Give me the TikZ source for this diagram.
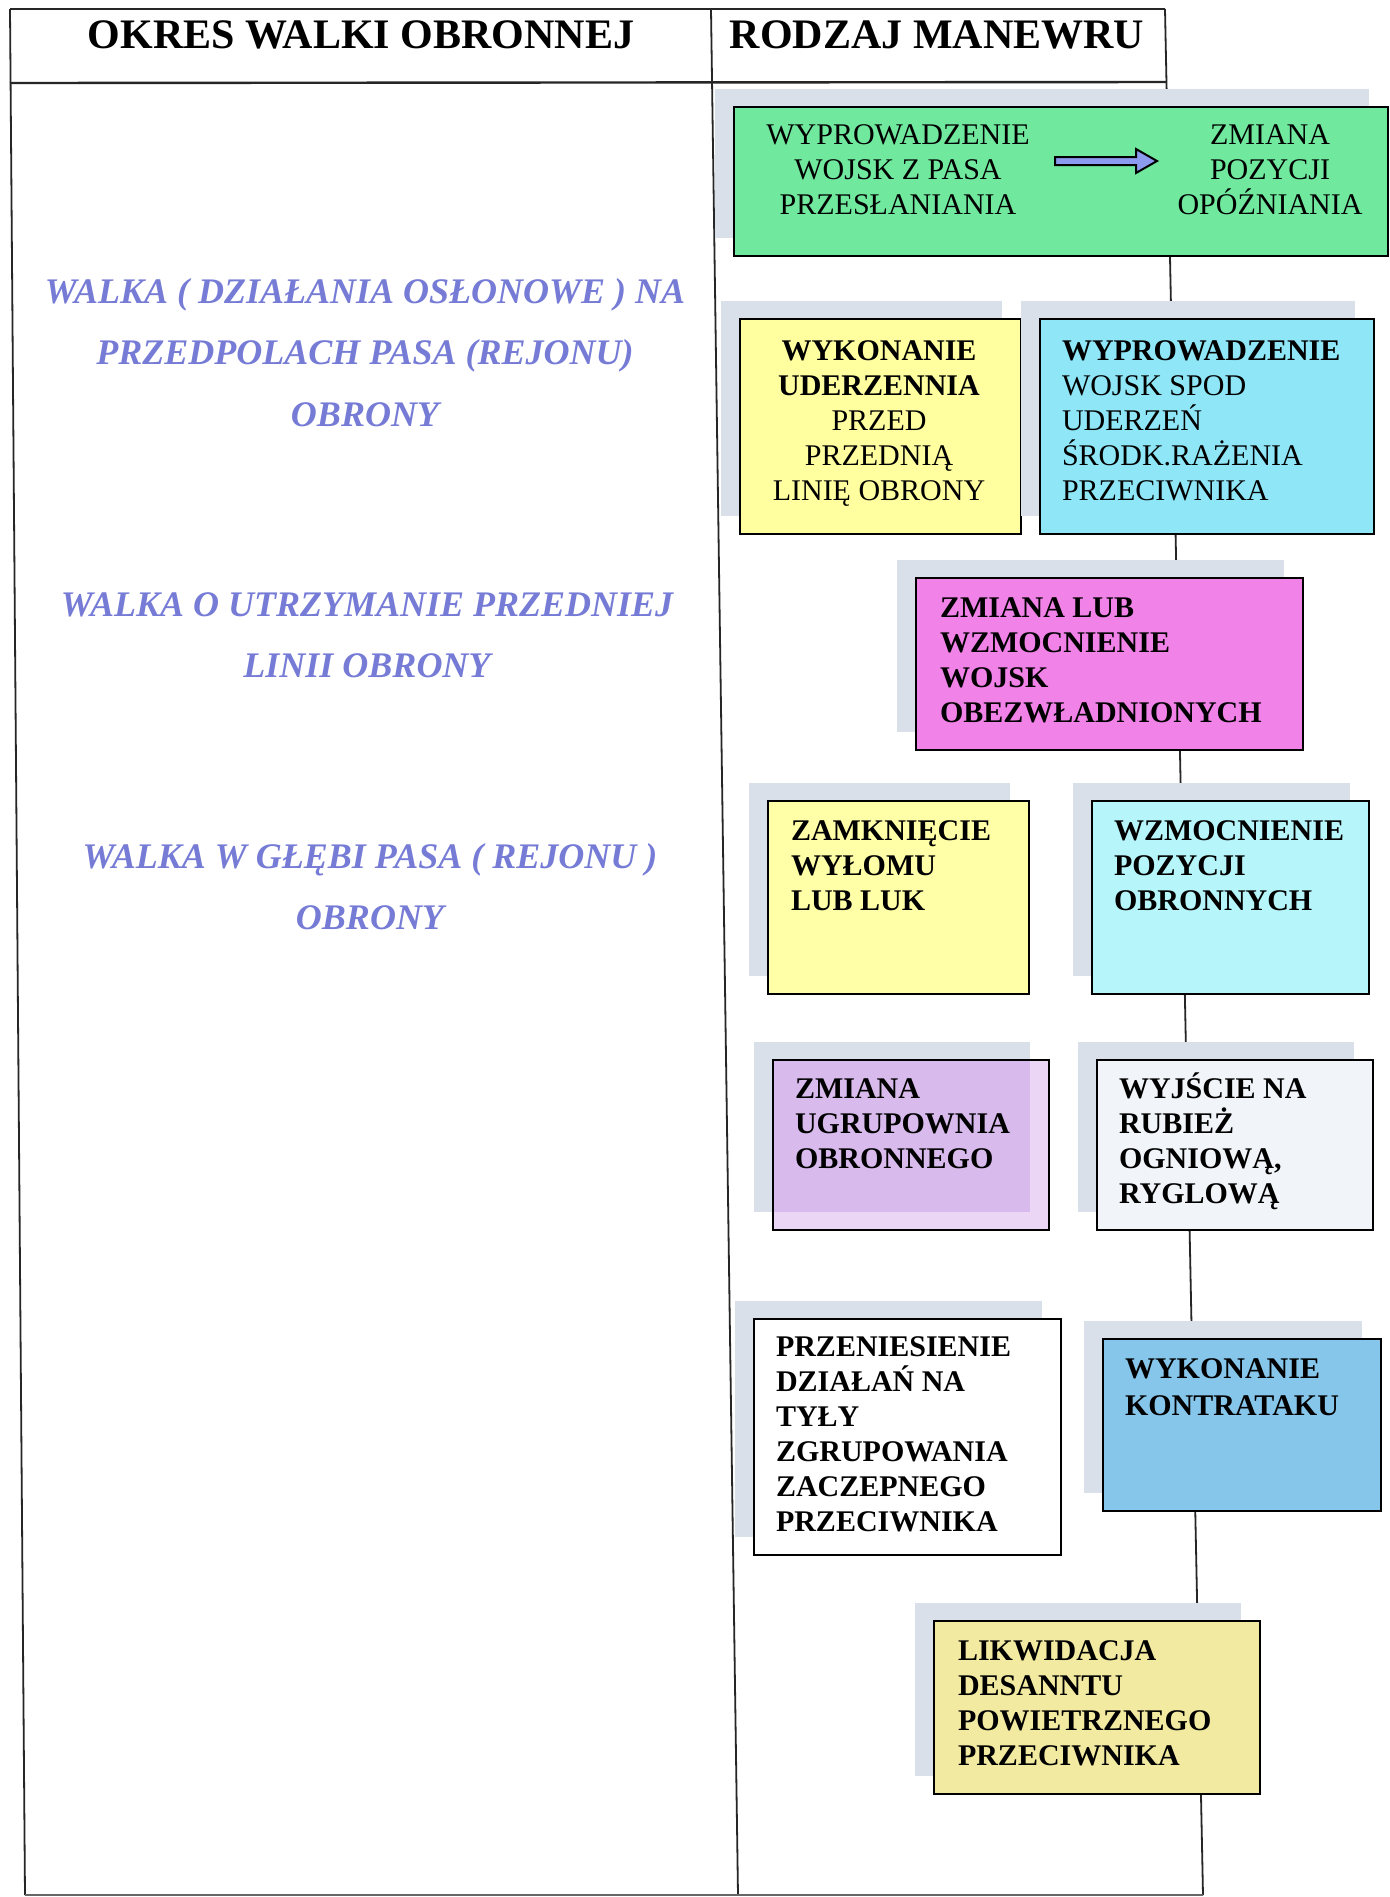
\documentclass[tikz,border=0pt]{standalone}
\usepackage{fontspec}
\setmainfont{Liberation Serif}
\definecolor{shadowc}{RGB}{217,224,233}
\definecolor{greenc}{RGB}{112,232,158}
\definecolor{yellowa}{RGB}{255,255,160}
\definecolor{cyana}{RGB}{142,230,247}
\definecolor{magentac}{RGB}{240,130,232}
\definecolor{yellowb}{RGB}{255,255,168}
\definecolor{cyanb}{RGB}{182,245,250}
\definecolor{purplelo}{RGB}{236,214,246}
\definecolor{purplehi}{RGB}{216,186,237}
\definecolor{whitegray}{RGB}{241,244,248}
\definecolor{bluec}{RGB}{135,198,235}
\definecolor{yellowc}{RGB}{242,234,160}
\definecolor{lefttxt}{RGB}{118,124,214}
\definecolor{arrowc}{RGB}{140,155,240}
\tikzset{
  tline/.style={line width=0.9pt, draw=black!85},
  hline/.style={line width=1.2pt, draw=black!85},
  boxst/.style={draw=black, line width=1.3pt, inner sep=0pt, outer sep=0pt},
  btxt/.style={inner sep=0pt, outer sep=0pt, align=left, anchor=north west,
    font=\fontsize{15pt}{17.5pt}\selectfont\bfseries},
  rtxt/.style={inner sep=0pt, outer sep=0pt, align=center, anchor=north,
    font=\fontsize{15pt}{17.5pt}\selectfont},
  ltxt/.style={inner sep=0pt, outer sep=0pt, align=center, anchor=north, text=lefttxt,
    font=\fontsize{18pt}{30.75pt}\selectfont\bfseries\itshape},
  htxt/.style={inner sep=0pt, anchor=base, font=\fontsize{21pt}{24pt}\selectfont\bfseries}
}
\newcommand\manbox[6]{%
  \fill[shadowc] ({#2-19},{#3-18}) rectangle ({#4-19},{#5-18});
  \node[boxst, fill=#6, anchor=north west,
        minimum width={(#4-#2)*0.5pt}, minimum height={(#5-#3)*0.5pt}] (#1) at (#2,#3) {};
}
\newcommand\fr{\rule{0pt}{15pt}}
\newcommand\lr{\rule{0pt}{16pt}}
\begin{document}
\begin{tikzpicture}[x=0.5pt,y=-0.5pt]
\useasboundingbox[fill=white] (0,0) rectangle (1390,1897);
% table frame
\coordinate (tl) at (10,9);
\coordinate (tm) at (711,9);
\coordinate (tr) at (1165,9);
\coordinate (hl) at (10,83);
\coordinate (hr) at (1166,82);
\coordinate (bl) at (25,1895);
\coordinate (bm) at (738,1895);
\coordinate (br) at (1203,1895);
\draw[hline] (tl) -- (tr);
\draw[hline] (hl) -- (hr);
\draw[tline] (tl) -- (bl);
\draw[tline] (tm) -- (bm);
\draw[tline] (tr) -- (br);
\draw[line width=1.2pt, draw=black!60] (bl) -- (br);
% headers
\node[htxt] (h1) at (361,48) {OKRES WALKI OBRONNEJ};
\node[htxt] (h2) at (937,48) {RODZAJ MANEWRU};
% left column texts
\node[ltxt] (l1) at (365,271) {\lr WALKA ( DZIAŁANIA OSŁONOWE ) NA\\PRZEDPOLACH PASA (REJONU)\\OBRONY};
\node[ltxt] (l2) at (367,584) {\lr WALKA O UTRZYMANIE PRZEDNIEJ\\LINII OBRONY};
\node[ltxt] (l3) at (370,836) {\lr WALKA W GŁĘBI PASA ( REJONU )\\OBRONY};
% boxes
\manbox{g}{734}{107}{1388}{256}{greenc}
\manbox{ya}{740}{319}{1021}{534}{yellowa}
\manbox{ca}{1040}{319}{1374}{534}{cyana}
\manbox{m}{916}{578}{1303}{750}{magentac}
\manbox{yb}{768}{801}{1029}{994}{yellowb}
\manbox{cb}{1092}{801}{1369}{994}{cyanb}
\manbox{p}{773}{1060}{1049}{1230}{purplelo}
\fill[purplehi] (774,1061) rectangle (1030,1212);
\draw[line width=1.3pt] (p.north west) rectangle (p.south east);
\manbox{wg}{1097}{1060}{1373}{1230}{whitegray}
\manbox{w}{754}{1319}{1061}{1555}{white}
\manbox{b}{1103}{1339}{1381}{1511}{bluec}
\manbox{yc}{934}{1621}{1260}{1794}{yellowc}
% green box content
\node[rtxt] (g1) at (898,114) {\fr WYPROWADZENIE\\WOJSK Z PASA\\PRZESŁANIANIA};
\node[rtxt] (g2) at (1270,114) {\fr ZMIANA\\POZYCJI\\OPÓŹNIANIA};
\draw[fill=arrowc, line width=1pt, line join=miter]
  (1055,157) -- (1136,157) -- (1136,149) -- (1157,161) -- (1136,173) -- (1136,165) -- (1055,165) -- cycle;
% box texts
\node[rtxt] (yat) at (879,330) {\fr\textbf{WYKONANIE}\\\textbf{UDERZENNIA}\\PRZED\\PRZEDNIĄ\\LINIĘ OBRONY};
\node[btxt] (cat) at (1062,330) {\fr WYPROWADZENIE\\\mdseries WOJSK SPOD\\\mdseries UDERZEŃ\\\mdseries ŚRODK.RAŻENIA\\\mdseries PRZECIWNIKA};
\node[btxt] (mt) at (940,587) {\fr ZMIANA LUB\\WZMOCNIENIE\\WOJSK\\OBEZWŁADNIONYCH};
\node[btxt] (ybt) at (791,810) {\fr ZAMKNIĘCIE\\WYŁOMU\\LUB LUK};
\node[btxt] (cbt) at (1114,810) {\fr WZMOCNIENIE\\POZYCJI\\OBRONNYCH};
\node[btxt] (pt) at (795,1068) {\fr ZMIANA\\UGRUPOWNIA\\OBRONNEGO};
\node[btxt] (wgt) at (1119,1068) {\fr WYJŚCIE NA\\RUBIEŻ\\OGNIOWĄ,\\RYGLOWĄ};
\node[btxt] (wt) at (776,1326) {\fr PRZENIESIENIE\\DZIAŁAŃ NA\\TYŁY\\ZGRUPOWANIA\\ZACZEPNEGO\\PRZECIWNIKA};
\node[btxt, font=\fontsize{15pt}{18.5pt}\selectfont\bfseries] (bt) at (1125,1348) {\fr WYKONANIE\\KONTRATAKU};
\node[btxt] (yct) at (958,1630) {\fr LIKWIDACJA\\DESANNTU\\POWIETRZNEGO\\PRZECIWNIKA};
\end{tikzpicture}
\end{document}
